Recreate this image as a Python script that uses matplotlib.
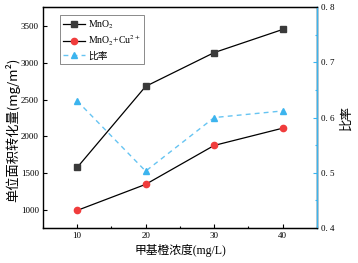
import matplotlib.pyplot as plt
from matplotlib.ticker import MultipleLocator

plt.rcParams['font.family'] = ['Liberation Serif', 'Noto Sans CJK SC']
plt.rcParams['mathtext.fontset'] = 'stix'

conc = [10, 20, 30, 40]
mno2 = [1575, 2680, 3140, 3455]
mno2_cu = [990, 1345, 1875, 2110]
ratio = [0.630, 0.503, 0.600, 0.612]

blue = '#3cb4ee'

fig = plt.figure(figsize=(3.58, 2.63), dpi=100)
ax = fig.add_axes([0.120, 0.133, 0.765, 0.840])
ax2 = ax.twinx()

l1, = ax.plot(conc, mno2, color='black', lw=0.9, marker='s', ms=4,
              mfc='#3a3a3a', mec='#3a3a3a', label='MnO$_2$')
l2, = ax.plot(conc, mno2_cu, color='black', lw=0.9, marker='o', ms=4.5,
              mfc='#f03c3c', mec='#f03c3c', label='MnO$_2$+Cu$^{2+}$')
l3, = ax2.plot(conc, ratio, color='#66c4f2', lw=1.0, ls=(0, (3.5, 3)),
               marker='^', ms=4.5, mfc=blue, mec=blue, label='比率')

ax.set_xlim(5, 45)
ax.set_ylim(750, 3760)
ax2.set_ylim(0.4, 0.8)

ax.xaxis.set_major_locator(MultipleLocator(10))
ax.xaxis.set_minor_locator(MultipleLocator(5))
ax.yaxis.set_major_locator(MultipleLocator(500))
ax.yaxis.set_minor_locator(MultipleLocator(250))
ax2.yaxis.set_major_locator(MultipleLocator(0.1))
ax2.yaxis.set_minor_locator(MultipleLocator(0.05))

ax.tick_params(axis='both', which='both', direction='in', labelsize=6.5,
               width=0.8, top=False, right=False, pad=3)
ax.tick_params(which='major', length=3)
ax.tick_params(which='minor', length=1.8)
ax.tick_params(axis='y', which='minor', length=0)
ax2.tick_params(axis='y', which='both', direction='in', colors=blue,
                labelcolor='black', labelsize=6.5, width=0.8, pad=3)
ax2.tick_params(which='major', length=3)
ax2.tick_params(which='minor', length=1.8)
ax2.yaxis.set_major_formatter(lambda v, p: ('%.1f' % v).replace('.', '. '))

for s in ax.spines.values():
    s.set_linewidth(1.0)
ax2.spines['right'].set_color(blue)
ax2.spines['right'].set_linewidth(1.0)
ax2.spines['left'].set_visible(False)

ax.set_xlabel('甲基橙浓度(mg/L)', fontsize=8.5, labelpad=3)
ax.set_ylabel('单位面积转化量(mg/m²)', fontsize=9.5,
              family=['Noto Sans CJK SC'])
ax.yaxis.set_label_coords(-0.083, 0.445)
ax2.set_ylabel('比率', fontsize=9, labelpad=4, family=['Noto Sans CJK SC'])

leg = ax.legend(handles=[l1, l2, l3], loc='upper left',
                bbox_to_anchor=(0.062, 0.964), borderaxespad=0,
                fontsize=7, frameon=True, fancybox=False,
                edgecolor='#555555', handlelength=2.2, borderpad=0.35,
                labelspacing=0.3, handletextpad=0.3)
leg.get_frame().set_linewidth(0.6)

fig.savefig('out.png', dpi=100)
